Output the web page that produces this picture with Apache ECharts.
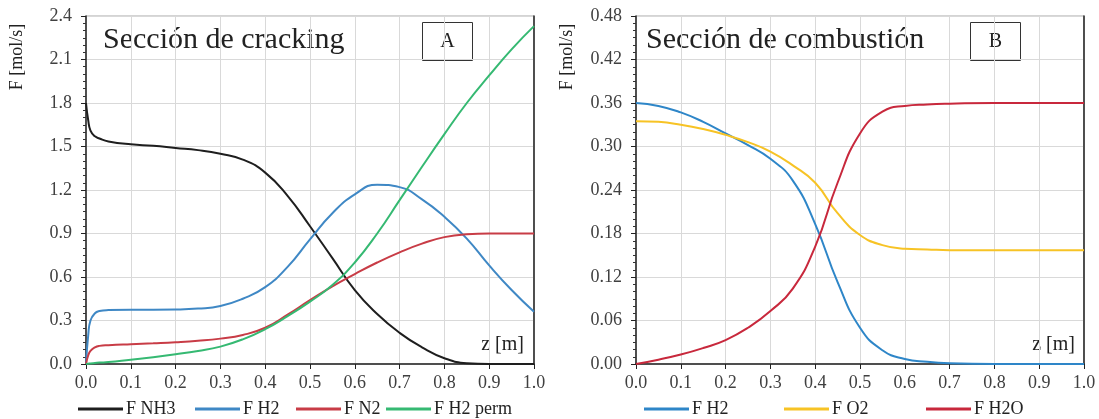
<!DOCTYPE html>
<html><head><meta charset="utf-8">
<script src="https://cdn.jsdelivr.net/npm/echarts@6/dist/echarts.min.js"></script>
<style>html,body{margin:0;padding:0;background:#fff}#c{width:1099px;height:419px}</style>
</head><body><div id="c"></div>
<script>
// ---- Data: Sección de cracking (A) ----
const zA      = [0, 0.005, 0.01, 0.02, 0.03, 0.05, 0.1, 0.15, 0.2, 0.25, 0.3, 0.35, 0.4, 0.45, 0.5, 0.55, 0.6, 0.65, 0.7, 0.75, 0.8, 0.85, 0.9, 0.95, 1.0];
const fNH3    = [1.80, 1.68, 1.61, 1.57, 1.555, 1.535, 1.515, 1.505, 1.49, 1.475, 1.45, 1.41, 1.32, 1.16, 0.95, 0.73, 0.51, 0.345, 0.215, 0.115, 0.04, 0.005, 0, 0, 0];
const fH2A    = [0, 0.20, 0.30, 0.35, 0.365, 0.372, 0.375, 0.375, 0.376, 0.382, 0.40, 0.45, 0.53, 0.67, 0.86, 1.04, 1.17, 1.237, 1.22, 1.135, 1.015, 0.865, 0.68, 0.51, 0.36];
const fN2     = [0, 0.06, 0.09, 0.115, 0.125, 0.13, 0.137, 0.143, 0.15, 0.16, 0.175, 0.20, 0.25, 0.34, 0.44, 0.535, 0.62, 0.70, 0.77, 0.83, 0.875, 0.895, 0.90, 0.90, 0.90];
const fH2perm = [0, 0.002, 0.004, 0.007, 0.01, 0.013, 0.03, 0.047, 0.067, 0.09, 0.12, 0.17, 0.24, 0.33, 0.43, 0.545, 0.70, 0.90, 1.13, 1.36, 1.585, 1.80, 1.99, 2.17, 2.33];
// ---- Data: Sección de combustión (B) ----
const zB   = [0, 0.05, 0.1, 0.15, 0.2, 0.25, 0.3, 0.35, 0.4, 0.45, 0.5, 0.55, 0.6, 0.65, 0.7, 0.8, 0.9, 1.0];
const fH2B = [0.36, 0.356, 0.347, 0.334, 0.318, 0.302, 0.283, 0.253, 0.193, 0.113, 0.05, 0.019, 0.007, 0.003, 0.001, 0, 0, 0];
const fO2  = [0.335, 0.334, 0.33, 0.324, 0.316, 0.306, 0.293, 0.274, 0.25, 0.208, 0.178, 0.164, 0.159, 0.158, 0.157, 0.157, 0.157, 0.157];
const fH2O = [0, 0.006, 0.013, 0.022, 0.033, 0.05, 0.073, 0.104, 0.162, 0.25, 0.318, 0.348, 0.356, 0.358, 0.359, 0.36, 0.36, 0.36];
// ---- Labels ----
const namesA = ['F NH3', 'F H2', 'F N2', 'F H2 perm'];
const namesB = ['F H2', 'F O2', 'F H2O'];
const titleA = 'Sección de cracking';
const titleB = 'Sección de combustión';
const yName = 'F [mol/s]';
const xName = 'z [m]';

const FONT = '"Liberation Serif", "DejaVu Serif", serif';
const colorsA = ['#1e1e1e', '#3f88c5', '#c83c46', '#35b972'];
const colorsB = ['#2e86c8', '#f7c325', '#c8283c'];
const pairs = (z, v) => z.map((x, i) => [x, v[i]]);

const grids = [
  {left: 86, top: 16, width: 448, height: 348, show: true, borderColor: '#a8a8a8', borderWidth: 1},
  {left: 636, top: 16, width: 448, height: 348, show: true, borderColor: '#a8a8a8', borderWidth: 1}
];
const gridLine = {show: true, lineStyle: {color: '#d9d9d9', width: 1}};

function xAxes(g) {
  return [
    {type: 'value', gridIndex: g, min: 0, max: 1, interval: 0.1,
     axisLine: {show: true, lineStyle: {color: '#222', width: 1.5}},
     axisTick: {show: true, inside: false, length: 5, lineStyle: {color: '#222'}},
     axisLabel: {fontFamily: FONT, fontSize: 18, color: '#404040', margin: 10, formatter: v => v.toFixed(1)},
     splitLine: gridLine},
    {type: 'value', gridIndex: g, min: 0, max: 1, interval: 0.1,
     axisLine: {show: false}, axisTick: {show: true, inside: true, length: 5, lineStyle: {color: '#222'}},
     axisLabel: {show: false}, splitLine: {show: false}}
  ];
}
function yAxes(g, max, interval, dec) {
  return [
    {type: 'value', gridIndex: g, min: 0, max: max, interval: interval,
     axisLine: {show: true, lineStyle: {color: '#222', width: 1.5}},
     axisTick: {show: true, inside: false, length: 5, lineStyle: {color: '#222'}},
     minorTick: {show: true, splitNumber: 6, length: 3, lineStyle: {color: '#333'}},
     axisLabel: {fontFamily: FONT, fontSize: 18, color: '#404040', margin: 14, formatter: v => v.toFixed(dec)},
     splitLine: gridLine},
    {type: 'value', gridIndex: g, min: 0, max: max, interval: interval,
     axisLine: {show: false}, axisTick: {show: true, inside: true, length: 5, lineStyle: {color: '#222'}},
     axisLabel: {show: false}, splitLine: {show: false}},
    {type: 'value', gridIndex: g, position: 'right', min: 0, max: max, interval: interval,
     axisLine: {show: true, lineStyle: {color: '#222', width: 1.5}}, axisTick: {show: false},
     axisLabel: {show: false}, splitLine: {show: false}}
  ];
}

const seriesList = [];
[fNH3, fH2A, fN2, fH2perm].forEach((d, i) => seriesList.push({
  type: 'line', name: namesA[i], xAxisIndex: 0, yAxisIndex: 0, data: pairs(zA, d),
  smooth: 0.5, symbol: 'none', lineStyle: {width: 2, color: colorsA[i]}, itemStyle: {color: colorsA[i]}, z: 5 + i
}));
[fH2B, fO2, fH2O].forEach((d, i) => seriesList.push({
  type: 'line', name: namesB[i] + ' ', xAxisIndex: 2, yAxisIndex: 3, data: pairs(zB, d),
  smooth: 0.5, symbol: 'none', lineStyle: {width: 2, color: colorsB[i]}, itemStyle: {color: colorsB[i]}, z: 5 + i
}));

const legendLefts = [78, 195, 296, 386, 644, 784, 926];
const legendNames = namesA.concat(namesB.map(n => n + ' '));
const legends = legendNames.map((n, i) => ({
  data: [n], left: legendLefts[i], top: 400, itemWidth: 45, itemHeight: 3, icon: 'rect', itemGap: 4, padding: 0,
  textStyle: {fontFamily: FONT, fontSize: 18, color: '#222', padding: [0, 0, 0, -2]},
  formatter: name => name.trim()
}));

function labelBox(x, t) {
  return {type: 'group', left: x, top: 22, children: [
    {type: 'rect', shape: {x: 0, y: 0, width: 50, height: 38}, style: {fill: '#fff', stroke: '#333', lineWidth: 1}},
    {type: 'text', x: 25, y: 19, style: {text: t, font: '20px ' + FONT, fill: '#222', textAlign: 'center', textVerticalAlign: 'middle'}}
  ]};
}
function plainText(x, y, t, size, align) {
  return {type: 'text', x: x, y: y, style: {text: t, font: size + 'px ' + FONT, fill: '#222', textAlign: align, textVerticalAlign: 'middle'}};
}
const graphics = [
  plainText(103, 40, titleA, 30, 'left'),
  plainText(646, 40, titleB, 30, 'left'),
  labelBox(422, 'A'),
  labelBox(970, 'B'),
  plainText(524, 345, xName, 20, 'right'),
  plainText(1075, 345, xName, 20, 'right'),
  {type: 'text', x: 17, y: 57, rotation: Math.PI / 2, style: {text: yName, font: '18px ' + FONT, fill: '#222', textAlign: 'center', textVerticalAlign: 'middle'}},
  {type: 'text', x: 567, y: 57, rotation: Math.PI / 2, style: {text: yName, font: '18px ' + FONT, fill: '#222', textAlign: 'center', textVerticalAlign: 'middle'}}
];

const chart = echarts.init(document.getElementById('c'), null, {renderer: 'canvas'});
chart.setOption({
  animation: false,
  backgroundColor: '#fff',
  grid: grids,
  xAxis: xAxes(0).concat(xAxes(1)),
  yAxis: yAxes(0, 2.4, 0.3, 1).concat(yAxes(1, 0.48, 0.06, 2)),
  legend: legends,
  series: seriesList,
  graphic: graphics
});
</script></body></html>
